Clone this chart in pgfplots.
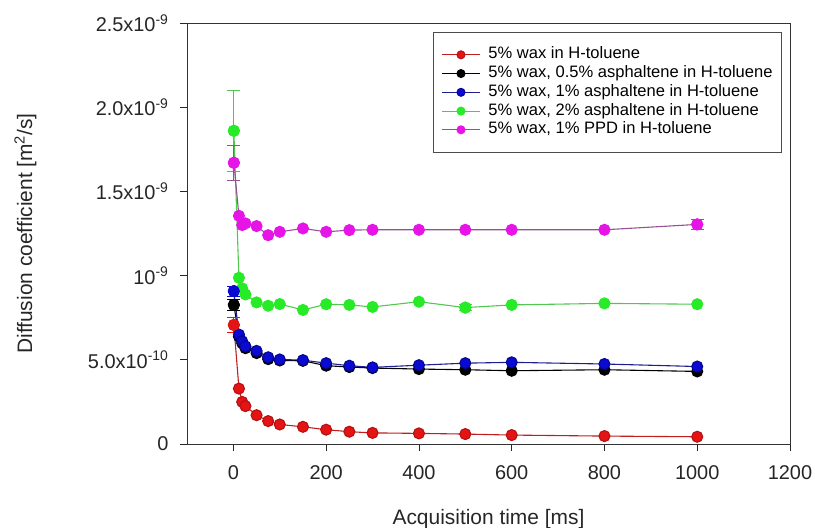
\documentclass[border=0pt]{standalone}
\usepackage{pgfplots}
\pgfplotsset{compat=1.18}
\usepackage{fontspec}
\setmainfont{Liberation Sans}
\definecolor{cred}{RGB}{228,20,20}
\definecolor{credl}{RGB}{190,30,30}
\definecolor{cblue}{RGB}{10,10,210}
\definecolor{cbluel}{RGB}{30,30,140}
\definecolor{cgreen}{RGB}{40,235,40}
\definecolor{cgreenl}{RGB}{80,200,80}
\definecolor{cmag}{RGB}{230,20,230}
\definecolor{cmagl}{RGB}{150,80,150}
\begin{document}
\begin{tikzpicture}
\begin{axis}[
  at={(0,0)}, anchor=south west,
  scale only axis, width=603bp, height=421bp,
  xmin=-100, xmax=1200, ymin=0, ymax=2.5,
  axis line style={line width=0.9pt, black!80},
  tick pos=left,
  tick align=outside, major tick length=7bp,
  tick style={line width=0.8pt, black!85},
  xtick={0,200,400,600,800,1000,1200},
  ytick={0,0.5,1,1.5,2,2.5},
  yticklabels={0, 5.0x10\textsuperscript{-10}, 10\textsuperscript{-9}, 1.5x10\textsuperscript{-9}, 2.0x10\textsuperscript{-9}, 2.5x10\textsuperscript{-9}},
  /pgf/number format/assume math mode=true,
  /pgf/number format/1000 sep={},
  tick label style={font=\fontsize{20}{24}\selectfont, text=black!85},
  yticklabel style={xshift=-8bp},
  xticklabel style={yshift=-11bp},
  xlabel={Acquisition time [ms]},
  ylabel={Diffusion coefficient [m\textsuperscript{2}/s]},
  label style={font=\fontsize{21}{25}\selectfont, text=black!85},
  xlabel style={at={(axis description cs:0.5,-0.178)}, anchor=center},
  ylabel style={at={(axis description cs:-0.268,0.5)}, anchor=center},
  legend style={at={(0.987,0.979)}, anchor=north east, font=\fontsize{16.6}{18.75}\selectfont,
    draw=black!70, line width=1.2pt, inner xsep=8bp, inner ysep=13bp, row sep=0bp,
    nodes={inner sep=1bp, text height=12.5bp, text depth=4.25bp},
    /tikz/every odd column/.append style={column sep=7bp}},
  legend cell align=left,
  legend image code/.code={\draw[line width=1pt, mark repeat=2,mark phase=2, mark size=4bp] plot coordinates {(0bp,0bp)(19bp,0bp)(38bp,0bp)};},
  every axis plot/.append style={line width=1.1pt, mark=*, mark size=5.5bp},
  error bars/error bar style={line width=1pt},
  error bars/error mark options={rotate=90, mark size=6.5bp, line width=1pt},
]
% red: 5% wax
\addplot[color=credl, mark options={fill=cred, draw=cred!80!black}] coordinates {
(1,0.707)(12,0.329)(19,0.250)(26,0.225)(50,0.171)(75,0.136)(100,0.116)(150,0.102)(200,0.085)(250,0.073)(300,0.066)(400,0.063)(500,0.059)(600,0.053)(800,0.047)(1000,0.043)};
\addlegendentry{5\% wax in H-toluene}
% black
\addplot[color=black, mark options={fill=black, draw=black}] coordinates {
(1,0.826)(12,0.638)(19,0.599)(26,0.569)(50,0.540)(75,0.504)(100,0.496)(150,0.494)(200,0.465)(250,0.457)(300,0.451)(400,0.445)(500,0.441)(600,0.435)(800,0.441)(1000,0.431)};
\addlegendentry{5\% wax, 0.5\% asphaltene in H-toluene}
% blue
\addplot[color=cbluel, mark options={fill=cblue, draw=cblue!70!black}] coordinates {
(1,0.908)(12,0.650)(19,0.610)(26,0.580)(50,0.553)(75,0.515)(100,0.502)(150,0.498)(200,0.480)(250,0.465)(300,0.455)(400,0.468)(500,0.480)(600,0.485)(800,0.475)(1000,0.460)};
\addlegendentry{5\% wax, 1\% asphaltene in H-toluene}
% green
\addplot[color=cgreenl, mark options={fill=cgreen, draw=cgreen}] coordinates {
(1,1.86)(12,0.987)(19,0.924)(26,0.888)(50,0.841)(75,0.821)(100,0.831)(150,0.796)(200,0.830)(250,0.826)(300,0.814)(400,0.845)(500,0.810)(600,0.826)(800,0.835)(1000,0.830)};
\addlegendentry{5\% wax, 2\% asphaltene in H-toluene}
% magenta
\addplot[color=cmagl, mark options={fill=cmag, draw=cmag}] coordinates {
(1,1.67)(12,1.355)(19,1.30)(26,1.31)(50,1.294)(75,1.24)(100,1.26)(150,1.28)(200,1.26)(250,1.27)(300,1.272)(400,1.272)(500,1.272)(600,1.272)(800,1.272)(1000,1.304)};
\addlegendentry{5\% wax, 1\% PPD in H-toluene}
% error bars
\addplot[forget plot, only marks, color=cred, mark options={fill=cred, draw=cred},
  error bars/.cd, y dir=both, y explicit] coordinates {(1,0.707) +- (0,0.043)};
\addplot[forget plot, only marks, color=black, mark options={fill=black},
  error bars/.cd, y dir=both, y explicit] coordinates {(1,0.826) +- (0,0.035)};
\addplot[forget plot, only marks, color=cblue, mark options={fill=cblue},
  error bars/.cd, y dir=both, y explicit] coordinates {(1,0.908) +- (0,0.03)};
\addplot[forget plot, only marks, color=cgreenl, mark options={fill=cgreen, draw=cgreen},
  error bars/.cd, y dir=both, y explicit] coordinates {(1,1.86) +- (0,0.24)(500,0.810) +- (0,0.02)};
\addplot[forget plot, only marks, color=cmagl, mark options={fill=cmag, draw=cmag},
  error bars/.cd, y dir=both, y explicit] coordinates {(1,1.67) +- (0,0.105)(1000,1.304) +- (0,0.03)};
\end{axis}
\pgfresetboundingbox
\path[use as bounding box] (-187bp,-84bp) rectangle (628bp,444bp);
\end{tikzpicture}
\end{document}
